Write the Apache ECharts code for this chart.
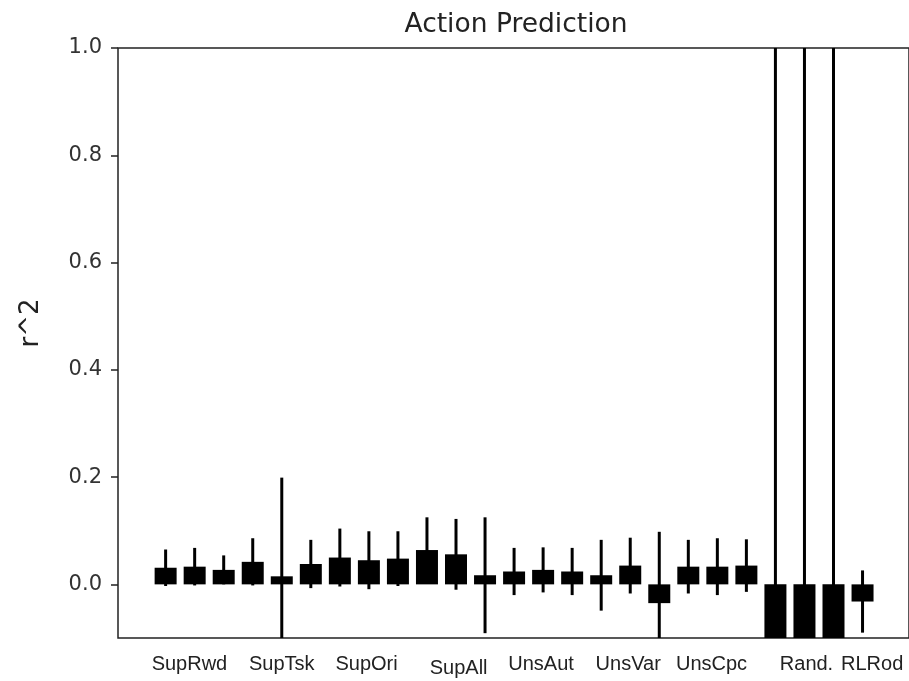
<!DOCTYPE html>
<html>
<head>
<meta charset="utf-8">
<script src="https://cdn.jsdelivr.net/npm/echarts@6/dist/echarts.min.js"></script>
<style>html,body{margin:0;padding:0;background:#fff;}#c{width:909px;height:681px;}</style>
</head>
<body>
<div id="c"></div>
<script>
// ---- data ----
const groupLabels = ['SupRwd', 'SupTsk', 'SupOri', 'SupAll', 'UnsAut', 'UnsVar', 'UnsCpc', 'Rand.', 'RLRod'];
const labelPos = [0.82, 4.0, 6.92, 10.09, 12.93, 15.93, 18.8, 22.07, 24.33];
const means = [0.031, 0.033, 0.027, 0.042, 0.015, 0.038, 0.050, 0.045, 0.048, 0.064, 0.056, 0.017,
               0.024, 0.027, 0.024, 0.017, 0.035, -0.035, 0.033, 0.033, 0.035, -1.2, -1.2, -1.2, -0.032];
const errs  = [0.034, 0.035, 0.027, 0.044, 0.184, 0.045, 0.054, 0.054, 0.051, 0.061, 0.066, 0.108,
               0.044, 0.042, 0.044, 0.066, 0.052, 0.133, 0.050, 0.053, 0.049, 2.6, 2.6, 2.6, 0.058];
const yTicks = [0.0, 0.2, 0.4, 0.6, 0.8, 1.0];

const barData = means.map((m, i) => [i, m]);
const errData = means.map((m, i) => [i, m - errs[i], m + errs[i]]);

const chart = echarts.init(document.getElementById('c'), null, {renderer: 'canvas'});
chart.setOption({
  animation: false,
  backgroundColor: '#fff',
  title: {
    text: 'Action Prediction',
    left: 511, top: 7, textAlign: 'center',
    textStyle: {fontFamily: 'DejaVu Sans', fontSize: 26.5, fontWeight: 'normal', color: '#222'}
  },
  grid: {
    left: 118, top: 48, right: -2, bottom: 43,
    show: true, borderColor: '#222', borderWidth: 1.5, backgroundColor: 'transparent'
  },
  xAxis: {
    type: 'value', min: -1.64, max: 25.6,
    splitLine: {show: false}, axisLine: {show: false, onZero: false}, axisTick: {show: false},
    axisLabel: {
      customValues: labelPos,
      margin: 16,
      fontFamily: 'Liberation Sans', fontSize: 20, color: '#222',
      formatter: function (v) {
        let best = 0, bd = 1e9;
        labelPos.forEach((p, k) => { const d = Math.abs(p - v); if (d < bd) { bd = d; best = k; } });
        const t = groupLabels[best];
        return t === 'SupAll' ? '{low|' + t + '}' : t;
      },
      rich: {low: {fontFamily: 'Liberation Sans', fontSize: 20, color: '#222', padding: [4, 0, 0, 0]}}
    }
  },
  yAxis: {
    type: 'value', min: -0.1, max: 1.0,
    name: 'r^2', nameLocation: 'middle', nameGap: 74, nameRotate: 90,
    nameTextStyle: {fontFamily: 'DejaVu Sans', fontSize: 26, color: '#222', padding: [0, 0, 0, 40]},
    splitLine: {show: false}, axisLine: {show: false, onZero: false},
    axisTick: {show: true, customValues: yTicks, length: 7, lineStyle: {color: '#222', width: 1.5}},
    axisLabel: {
      customValues: yTicks, margin: 16,
      fontFamily: 'DejaVu Sans', fontSize: 21, color: '#333',
      formatter: v => v.toFixed(1)
    }
  },
  series: [
    {
      type: 'bar', data: barData, barWidth: 22, clip: true,
      itemStyle: {color: '#000'}
    },
    {
      type: 'custom', data: errData, clip: true, z: 3,
      renderItem: function (params, api) {
        const x = api.value(0), lo = api.value(1), hi = api.value(2);
        const p1 = api.coord([x, hi]), p2 = api.coord([x, lo]);
        const cs = params.coordSys;
        const y1 = Math.max(p1[1], cs.y), y2 = Math.min(p2[1], cs.y + cs.height);
        return {type: 'line', shape: {x1: p1[0], y1: y1, x2: p1[0], y2: y2},
                style: {stroke: '#000', lineWidth: 3}};
      }
    }
  ]
});
</script>
</body>
</html>
